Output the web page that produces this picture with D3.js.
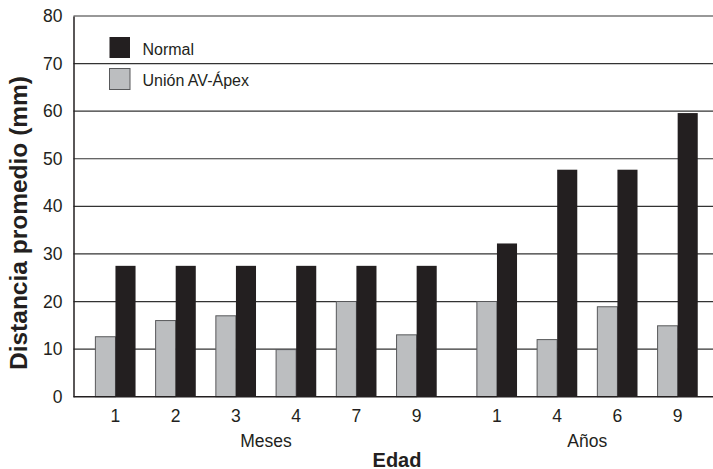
<!DOCTYPE html>
<html>
<head>
<meta charset="utf-8">
<script src="https://cdn.jsdelivr.net/npm/d3@7"></script>
<style>
  html, body { margin: 0; padding: 0; background: #fff; }
  svg { display: block; font-family: "Liberation Sans", Arial, Helvetica, sans-serif; }
</style>
</head>
<body>
<svg id="chart" width="713" height="469"></svg>
<script>
// ---- data ----
const ageLabels = ["1", "2", "3", "4", "7", "9", "1", "4", "6", "9"];
const sections = ["Meses", "Meses", "Meses", "Meses", "Meses", "Meses", "Años", "Años", "Años", "Años"];
const sectionNames = ["Meses", "Años"];
const seriesNames = ["Normal", "Unión AV-Ápex"];
const normalValues = [27.5, 27.5, 27.5, 27.5, 27.5, 27.5, 32.2, 47.7, 47.7, 59.6];
const unionValues = [12.6, 16.0, 17.0, 9.9, 20.0, 13.0, 20.0, 12.0, 18.9, 14.9];
const yTicks = [0, 10, 20, 30, 40, 50, 60, 70, 80];
const yTitle = "Distancia promedio (mm)";
const xTitle = "Edad";

(function () {
// ---- layout ----
const svg = d3.select("#chart");
const mLeft = 73.5, mRight = 713, mTop = 16, mBottom = 396.7;
const colNormal = "#231f20", colUnion = "#bcbec0", strokeUnion = "#58595b";
const leadIn = 1.09;      // in bar-width units
const totalUnits = 31.85;

const x = d3.scaleLinear().domain([0, totalUnits]).range([mLeft, mRight]);
const y = d3.scaleLinear().domain([0, 80]).range([mBottom, mTop]);

const groups = ageLabels.map((lab, i) => {
  const secIdx = sectionNames.indexOf(sections[i]);
  const start = leadIn + 3 * i + secIdx; // one extra gap unit before "Años"
  return { lab, sec: sections[i], start, normal: normalValues[i], union: unionValues[i] };
});

// grid lines
svg.append("g").selectAll("line").data(yTicks.filter(t => t > 0)).join("line")
  .attr("x1", mLeft).attr("x2", mRight)
  .attr("y1", d => y(d)).attr("y2", d => y(d))
  .attr("stroke", "#333").attr("stroke-width", 1.2);

// y axis (no tick marks)
const yAxis = svg.append("g").attr("transform", `translate(${mLeft},0)`)
  .call(d3.axisLeft(y).tickValues(yTicks).tickSize(0).tickPadding(11));
yAxis.select(".domain").attr("stroke", "#231f20").attr("stroke-width", 1.5);
yAxis.selectAll("text").attr("font-size", 17.5).attr("fill", "#231f20")
  .attr("font-family", "'Liberation Sans', Arial, sans-serif");

// bars
const bars = svg.append("g");
bars.selectAll("rect.union").data(groups).join("rect").attr("class", "union")
  .attr("x", d => x(d.start)).attr("width", d => x(d.start + 1) - x(d.start))
  .attr("y", d => y(d.union)).attr("height", d => y(0) - y(d.union))
  .attr("fill", colUnion).attr("stroke", strokeUnion).attr("stroke-width", 1);
bars.selectAll("rect.normal").data(groups).join("rect").attr("class", "normal")
  .attr("x", d => x(d.start + 1)).attr("width", d => x(d.start + 2) - x(d.start + 1))
  .attr("y", d => y(d.normal)).attr("height", d => y(0) - y(d.normal))
  .attr("fill", colNormal);

// bottom axis line
svg.append("line").attr("x1", mLeft).attr("x2", mRight)
  .attr("y1", y(0)).attr("y2", y(0))
  .attr("stroke", "#231f20").attr("stroke-width", 1.5);

// x tick labels
svg.append("g").selectAll("text").data(groups).join("text")
  .attr("x", d => x(d.start + 1)).attr("y", 421.5)
  .attr("text-anchor", "middle").attr("font-size", 17.5).attr("fill", "#231f20")
  .text(d => d.lab);

// section labels
svg.append("g").selectAll("text").data(sectionNames).join("text")
  .attr("x", s => {
    const g = groups.filter(d => d.sec === s);
    return (x(g[0].start + 1) + x(g[g.length - 1].start + 1)) / 2;
  })
  .attr("y", 446.5).attr("text-anchor", "middle").attr("font-size", 17.5).attr("fill", "#231f20")
  .text(s => s);

// axis titles
svg.append("text").attr("x", 397).attr("y", 466.5).attr("text-anchor", "middle")
  .attr("font-size", 20).attr("font-weight", "bold").attr("fill", "#231f20").text(xTitle);
svg.append("text").attr("transform", "translate(26.5,223) rotate(-90)")
  .attr("text-anchor", "middle").attr("font-size", 24.5).attr("font-weight", "bold").attr("fill", "#231f20")
  .text(yTitle);

// legend
const legendColors = [colNormal, colUnion];
const legend = svg.append("g").selectAll("g").data(seriesNames).join("g")
  .attr("transform", (d, i) => `translate(109.5,${37 + i * 31.5})`);
legend.append("rect").attr("width", 20.5).attr("height", 21)
  .attr("fill", (d, i) => legendColors[i])
  .attr("stroke", (d, i) => i === 1 ? strokeUnion : "none").attr("stroke-width", 1);
legend.append("text").attr("x", 33).attr("y", 17.5).attr("font-size", 16).attr("fill", "#231f20")
  .text(d => d);
})();
</script>
</body>
</html>
